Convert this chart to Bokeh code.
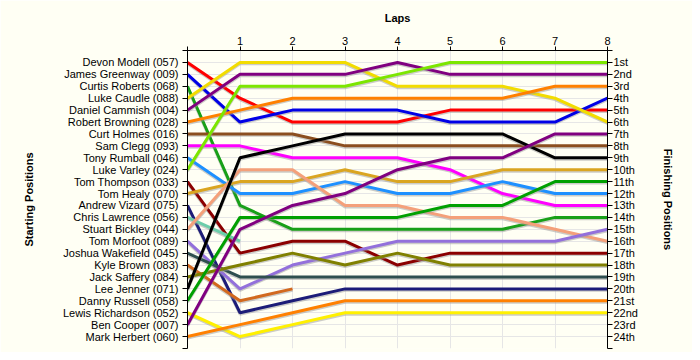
import math
from bokeh.plotting import figure
from bokeh.models import ColumnDataSource, Range1d, LinearAxis, FixedTicker
from bokeh.transform import dodge
from bokeh.embed import file_html
from bokeh.resources import INLINE

drivers = ["Devon Modell (057)", "James Greenway (009)", "Curtis Roberts (068)",
           "Luke Caudle (088)", "Daniel Cammish (004)", "Robert Browning (028)",
           "Curt Holmes (016)", "Sam Clegg (093)", "Tony Rumball (046)",
           "Luke Varley (024)", "Tom Thompson (033)", "Tom Healy (070)",
           "Andrew Vizard (075)", "Chris Lawrence (056)", "Stuart Bickley (044)",
           "Tom Morfoot (089)", "Joshua Wakefield (045)", "Kyle Brown (083)",
           "Jack Saffery (084)", "Lee Jenner (071)", "Danny Russell (058)",
           "Lewis Richardson (052)", "Ben Cooper (007)", "Mark Herbert (060)"]

colors = ["#FF0000", "#0000E6", "#18A018", "#F2DC00", "#800080", "#FF8000",
          "#8B4E1E", "#FF00FF", "#1E90FF", "#7CE600", "#8B0000", "#DAA520",
          "#1C1C78", "#6CCDAA", "#F4A07A", "#9370DB", "#2F4F4F", "#D2691E",
          "#808000", "#000000", "#00A000", "#FFF000", "#800080", "#FF8000"]

laps = [0, 1, 2, 3, 4, 5, 6, 7, 8]

lap0 = [1, 2, 3, 4, 5, 6, 7, 8, 9, 10, 11, 12, 13, 14, 15, 16, 17, 18, 19, 20, 21, 22, 23, 24]
lap1 = [4, 6, 13, 1, 2, 5, 7, 8, 12, 3, 17, 11, 22, 16, 10, 20, 19, 21, 18, 9, 14, 24, 15, 23]
lap2 = [6, 5, 15, 1, 2, 4, 7, 9, 12, 3, 16, 11, 21, None, 10, 18, 19, 20, 17, 8, 14, 23, 13, 22]
lap3 = [6, 5, 15, 1, 2, 4, 8, 9, 11, 3, 16, 10, 20, None, 13, 17, 19, None, 18, 7, 14, 22, 12, 21]
lap4 = [6, 5, 15, 3, 1, 4, 8, 9, 12, 2, 18, 11, 20, None, 13, 16, 19, None, 17, 7, 14, 22, 10, 21]
lap5 = [5, 6, 15, 3, 2, 4, 8, 10, 12, 1, 17, 11, 20, None, 14, 16, 19, None, 18, 7, 13, 22, 9, 21]
lap6 = [5, 6, 15, 3, 2, 4, 8, 12, 11, 1, 17, 10, 20, None, 14, 16, 19, None, 18, 7, 13, 22, 9, 21]
lap7 = [5, 6, 14, 4, 2, 3, 8, 13, 12, 1, 17, 10, 20, None, 15, 16, 19, None, 18, 9, 11, 22, 7, 21]
lap8 = [5, 4, 14, 6, 2, 3, 8, 13, 12, 1, 17, 10, 20, None, 16, 15, 19, None, 18, 9, 11, 22, 7, 21]

finish_labels = ["1st", "2nd", "3rd", "4th", "5th", "6th", "7th", "8th", "9th", "10th",
                 "11th", "12th", "13th", "14th", "15th", "16th", "17th", "18th", "19th",
                 "20th", "21st", "22nd", "23rd", "24th"]

BG = "#FFFFF4"
FONT = "Liberation Sans"

p = figure(width=692, height=352, output_backend="svg", toolbar_location=None,
           x_range=Range1d(0, 8), y_range=Range1d(25, 0),
           x_axis_location="above", y_axis_location="left",
           min_border_left=187, min_border_right=85, min_border_top=50,
           min_border_bottom=4)
p.background_fill_color = BG
p.border_fill_color = BG
p.outline_line_color = None

all_laps = [lap0, lap1, lap2, lap3, lap4, lap5, lap6, lap7, lap8]
for i in range(len(drivers)):
    ys = [lp[i] if lp[i] is not None else math.nan for lp in all_laps]
    src = ColumnDataSource(dict(x=laps, y=ys))
    p.line(x="x", y=dodge("y", 0.12), source=src, line_color="#9A9A9A",
           line_alpha=0.5, line_width=3)
    p.line(x="x", y="y", source=src, line_color=colors[i], line_width=3)

# grids
p.xgrid.ticker = FixedTicker(ticks=[1, 2, 3, 4, 5, 6, 7])
p.ygrid.ticker = FixedTicker(ticks=list(range(1, 25)))
p.xgrid.grid_line_color = "#E6E6E6"
p.ygrid.grid_line_color = "#E6E6E6"

def style_axis(ax):
    ax.axis_line_color = "black"
    ax.major_tick_line_color = "black"
    ax.minor_tick_line_color = None
    ax.major_tick_in = 0
    ax.major_tick_out = 5
    ax.major_label_text_font = FONT
    ax.major_label_text_font_size = "11px"
    ax.major_label_text_color = "black"
    ax.axis_label_text_font = FONT
    ax.axis_label_text_font_size = "11px"
    ax.axis_label_text_font_style = "bold"
    ax.axis_label_text_color = "black"

# top axis
top = p.xaxis[0]
style_axis(top)
top.ticker = FixedTicker(ticks=laps)
top.major_label_overrides = {0: ""}
top.axis_label = "Laps"
top.major_label_standoff = 2
top.axis_label_standoff = 10
top.major_tick_out = 4

# left axis
left = p.yaxis[0]
style_axis(left)
left.ticker = FixedTicker(ticks=list(range(0, 26)))
ovr = {0: "", 25: ""}
for k, name in enumerate(drivers):
    ovr[lap0[k]] = name
left.major_label_overrides = ovr
left.axis_label = "Starting Positions"
left.major_label_standoff = 4
left.axis_label_standoff = 25

# right axis
right = LinearAxis()
style_axis(right)
right.ticker = FixedTicker(ticks=list(range(0, 26)))
rovr = {0: "", 25: ""}
for k, lab in enumerate(finish_labels):
    rovr[k + 1] = lab
right.major_label_overrides = rovr
right.axis_label = "Finishing Positions"
right.major_label_standoff = 1
right.axis_label_standoff = 21
p.add_layout(right, "right")

open("out.html", "w").write(file_html(p, INLINE))
